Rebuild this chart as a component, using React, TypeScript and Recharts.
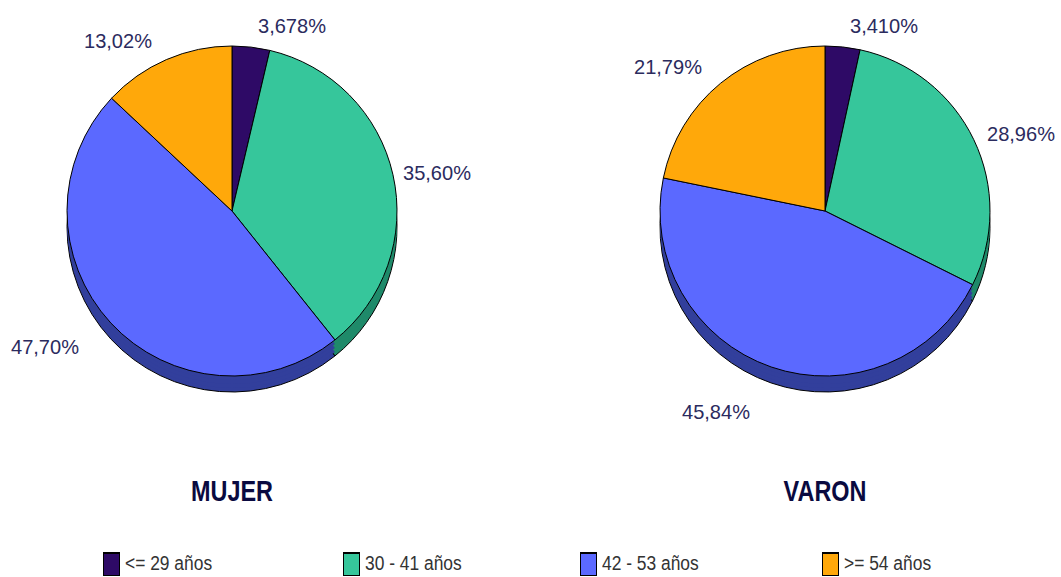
import { PieChart, Pie, Cell } from "recharts";

const categories = ["<= 29 años", "30 - 41 años", "42 - 53 años", ">= 54 años"];
const mujerValues = [3.678, 35.6, 47.7, 13.02];
const varonValues = [3.41, 28.96, 45.84, 21.79];
const mujerLabels = ["3,678%", "35,60%", "47,70%", "13,02%"];
const varonLabels = ["3,410%", "28,96%", "45,84%", "21,79%"];

const colors = ["#2E0A66", "#36C69B", "#5B69FF", "#FFA80A"];
const sideColors = ["#1C0640", "#1F8A6A", "#323F9C", "#A06A08"];

// label centres relative to the pie centre
const mujerOffsets = [[60, -186], [205, -39], [-187, 135], [-114, -171]];
const varonOffsets = [[59, -186], [196, -78], [-109, 200], [-157, -145]];

const depthSteps = [16, 12, 8, 4];
const CY = 211;
const R = 165;
const FONT = "'Liberation Sans', Arial, sans-serif";

const toRows = (values: number[]) =>
  values.map((value, i) => ({ name: categories[i], value }));

const makeLabel =
  (labels: string[], offsets: number[][]) =>
  // eslint-disable-next-line @typescript-eslint/no-explicit-any
  ({ cx, cy, index }: any) => (
    <text
      x={cx + offsets[index][0]}
      y={cy + offsets[index][1]}
      textAnchor="middle"
      dominantBaseline="central"
      fontFamily={FONT}
      fontSize={21}
      textLength={68}
      lengthAdjust="spacingAndGlyphs"
      fill="#2B2B5E"
    >
      {labels[index]}
    </text>
  );

function Pie3D(cx: number, values: number[], labels: string[], offsets: number[][]) {
  const rows = toRows(values);
  return [
    ...depthSteps.map((d) => (
      <Pie
        key={`${cx}-side-${d}`}
        data={rows}
        dataKey="value"
        cx={cx}
        cy={CY + d}
        outerRadius={R}
        startAngle={90}
        endAngle={-270}
        stroke={d === 16 ? "#000" : "none"}
        strokeWidth={1}
        label={false}
        labelLine={false}
        isAnimationActive={false}
      >
        {rows.map((_, i) => (
          <Cell key={i} fill={sideColors[i]} />
        ))}
      </Pie>
    )),
    <Pie
      key={`${cx}-top`}
      data={rows}
      dataKey="value"
      cx={cx}
      cy={CY}
      outerRadius={R}
      startAngle={90}
      endAngle={-270}
      stroke="#000"
      strokeWidth={1}
      label={makeLabel(labels, offsets)}
      labelLine={false}
      isAnimationActive={false}
    >
      {rows.map((_, i) => (
        <Cell key={i} fill={colors[i]} />
      ))}
    </Pie>,
  ];
}

const titleStyle = (center: number): React.CSSProperties => ({
  position: "absolute",
  left: center - 80,
  width: 160,
  top: 474,
  textAlign: "center",
  fontFamily: FONT,
  fontWeight: 700,
  fontSize: 30,
  lineHeight: "34px",
  color: "#0A0A40",
  transform: "scaleX(0.78)",
});

const legendX = [103, 343, 580, 822];

export default function App() {
  return (
    <div style={{ position: "absolute", left: 0, top: 0, width: 1061, height: 577, background: "#fff", overflow: "hidden" }}>
      <PieChart width={1061} height={577} margin={{ top: 0, right: 0, bottom: 0, left: 0 }}>
        {Pie3D(232, mujerValues, mujerLabels, mujerOffsets)}
        {Pie3D(825, varonValues, varonLabels, varonOffsets)}
      </PieChart>
      <div style={titleStyle(232)}>MUJER</div>
      <div style={titleStyle(825)}>VARON</div>
      {categories.map((c, i) => (
        <div key={c} style={{ position: "absolute", left: legendX[i], top: 552, height: 23, display: "flex", alignItems: "center" }}>
          <span style={{ width: 15, height: 21, background: colors[i], border: "1px solid #000", borderTopWidth: 2, display: "inline-block", flexShrink: 0 }} />
          <span style={{ marginLeft: 5, fontFamily: FONT, fontSize: 20, color: "#333", whiteSpace: "nowrap", transform: "scaleX(0.87)", transformOrigin: "left center" }}>{c}</span>
        </div>
      ))}
    </div>
  );
}
